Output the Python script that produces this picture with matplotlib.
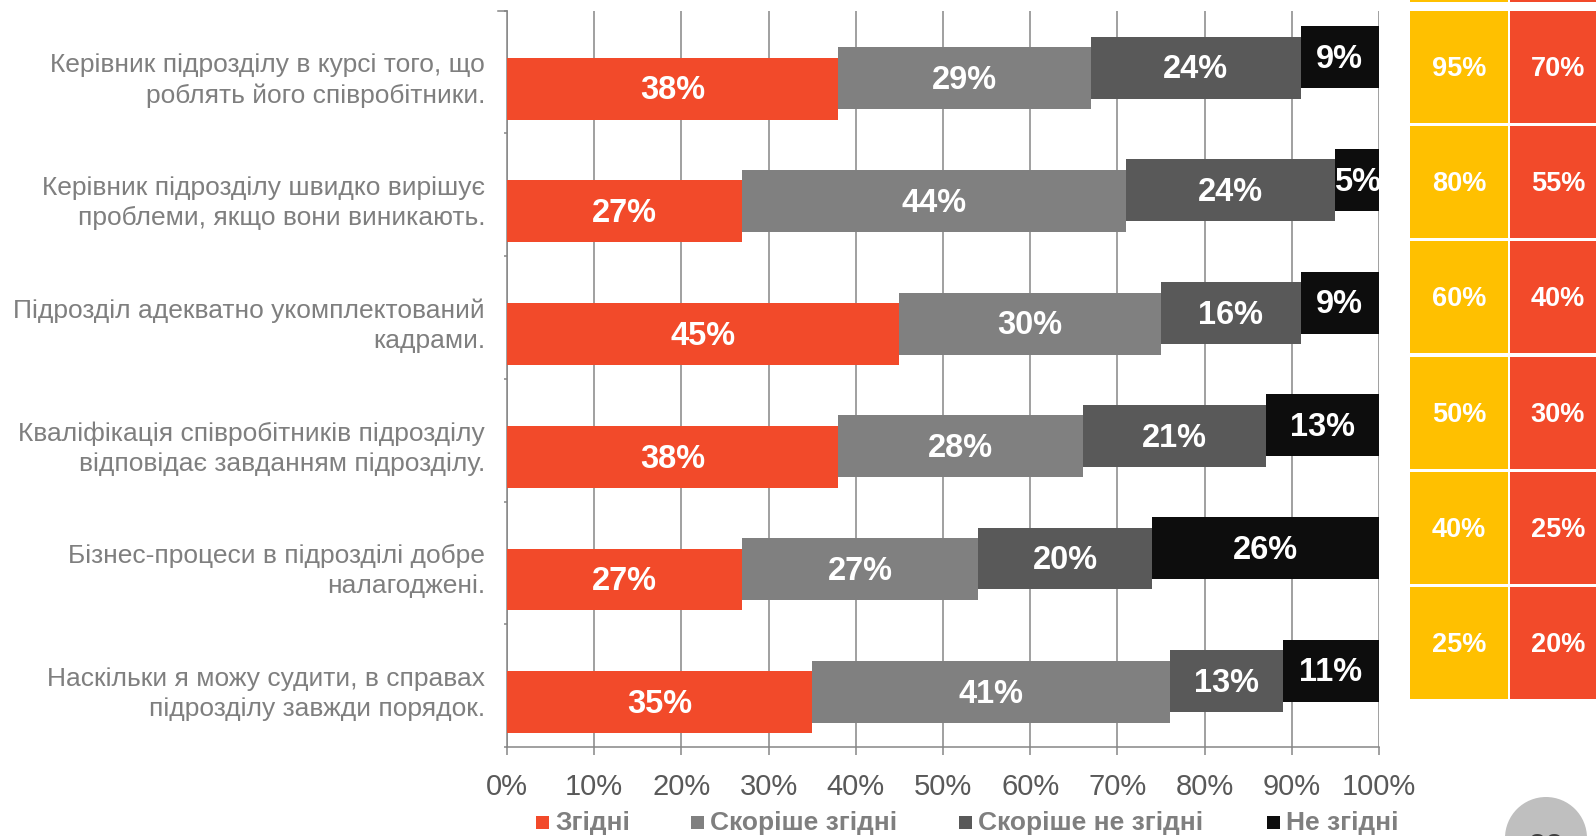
import numpy as np
import matplotlib.pyplot as plt
from matplotlib.patches import Rectangle, Circle
from matplotlib.transforms import blended_transform_factory

plt.rcParams['font.family'] = ['Liberation Sans', 'DejaVu Sans']

categories = [
    'Керівник підрозділу в курсі того, що\nроблять його співробітники.',
    'Керівник підрозділу швидко вирішує\nпроблеми, якщо вони виникають.',
    'Підрозділ адекватно укомплектований\nкадрами.',
    'Кваліфікація співробітників підрозділу\nвідповідає завданням підрозділу.',
    'Бізнес-процеси в підрозділі добре\nналагоджені.',
    'Наскільки я можу судити, в справах\nпідрозділу завжди порядок.',
]
series_names = ['Згідні', 'Скоріше згідні', 'Скоріше не згідні', 'Не згідні']
agree = [38, 27, 45, 38, 27, 35]
rather_agree = [29, 44, 30, 28, 27, 41]
rather_disagree = [24, 24, 16, 21, 20, 13]
disagree = [9, 5, 9, 13, 26, 11]
colors = ['#f24a2a', '#808080', '#595959', '#0d0d0d']

# side table
yellow_vals = [95, 80, 60, 50, 40, 25]
red_vals = [70, 55, 40, 30, 25, 20]

W, H = 1596, 837
fig = plt.figure(figsize=(W / 100, H / 100), dpi=100)
ax = fig.add_axes([507 / W, 1 - 748 / H, (1379 - 507) / W, (748 - 11.7) / H])

offsets = [0.135, 0.05, -0.036, -0.122]
y = np.arange(len(categories))
left = np.zeros(len(categories))
for vals, color, off in zip([agree, rather_agree, rather_disagree, disagree], colors, offsets):
    bars = ax.barh(y + off, vals, left=left, height=0.505, color=color, zorder=3)
    for b, v in zip(bars, vals):
        ax.text(b.get_x() + b.get_width() / 2, b.get_y() + b.get_height() / 2 + 0.01, f'{v}%',
                ha='center', va='center', color='white', fontsize=23.5, fontweight='bold', zorder=4)
    left += np.array(vals)

ax.set_xlim(0, 100)
ax.set_ylim(5.5, -0.5)
ax.set_xticks(range(0, 101, 10))
ax.set_xticklabels([f'{t}%' for t in range(0, 101, 10)], fontsize=21, color='#595959')
ax.tick_params(axis='x', length=6, width=1.1, color='#868686', pad=12)
ax.set_yticks(np.arange(-0.5, 6, 1))
ax.set_yticklabels([])
ax.tick_params(axis='y', length=2.5, width=1.1, color='#868686')
ax.xaxis.grid(True, color='#868686', lw=1.1, zorder=0)
ax.set_axisbelow(True)
for s in ['top', 'right']:
    ax.spines[s].set_visible(False)
for s in ['left', 'bottom']:
    ax.spines[s].set_color('#868686')
    ax.spines[s].set_linewidth(1.1)
ax.plot([-0.0105, 0], [1, 1], transform=ax.transAxes, color='#868686', lw=1.1, clip_on=False)

tr = blended_transform_factory(ax.transAxes, ax.transData)
for i, lab in enumerate(categories):
    ax.text(-0.0252, i + 0.06, lab, transform=tr, ha='right', va='center',
            fontsize=19, color='#7f7f7f', linespacing=1.32)

# overlay in pixel coords for table, legend, page number
ov = fig.add_axes([0, 0, 1, 1])
ov.set_xlim(0, W)
ov.set_ylim(H, 0)
ov.axis('off')

ov.add_patch(Rectangle((1410, -110), 97.7, 113.3, color='#ffc000', lw=0))
ov.add_patch(Rectangle((1510, -110), 100, 113.3, color='#f24a2a', lw=0))
for i, (yv, rv) in enumerate(zip(yellow_vals, red_vals)):
    top = 11.7 + i * 115.3
    ov.add_patch(Rectangle((1410, top), 97.7, 112, color='#ffc000', lw=0))
    ov.add_patch(Rectangle((1510, top), 100, 112, color='#f24a2a', lw=0))
    ov.text(1410 + 97.7 / 2, top + 57, f'{yv}%', ha='center', va='center',
            color='white', fontsize=19.5, fontweight='bold')
    ov.text(1558, top + 57, f'{rv}%', ha='center', va='center',
            color='white', fontsize=19.5, fontweight='bold')

legend_x = [536, 691, 959, 1267]
for lx, name, color in zip(legend_x, series_names, colors):
    ov.add_patch(Rectangle((lx, 817), 13, 13, color=color, lw=0))
    ov.text(lx + 19, 823, name, ha='left', va='center', fontsize=19,
            fontweight='bold', color='#7f7f7f')

ov.add_patch(Circle((1546, 839), 41, color='#bfbfbf', lw=0))
ov.text(1546, 848, '22', ha='center', va='center', fontsize=22, fontweight='bold', color='#404040')

fig.savefig('out.png', dpi=100)
